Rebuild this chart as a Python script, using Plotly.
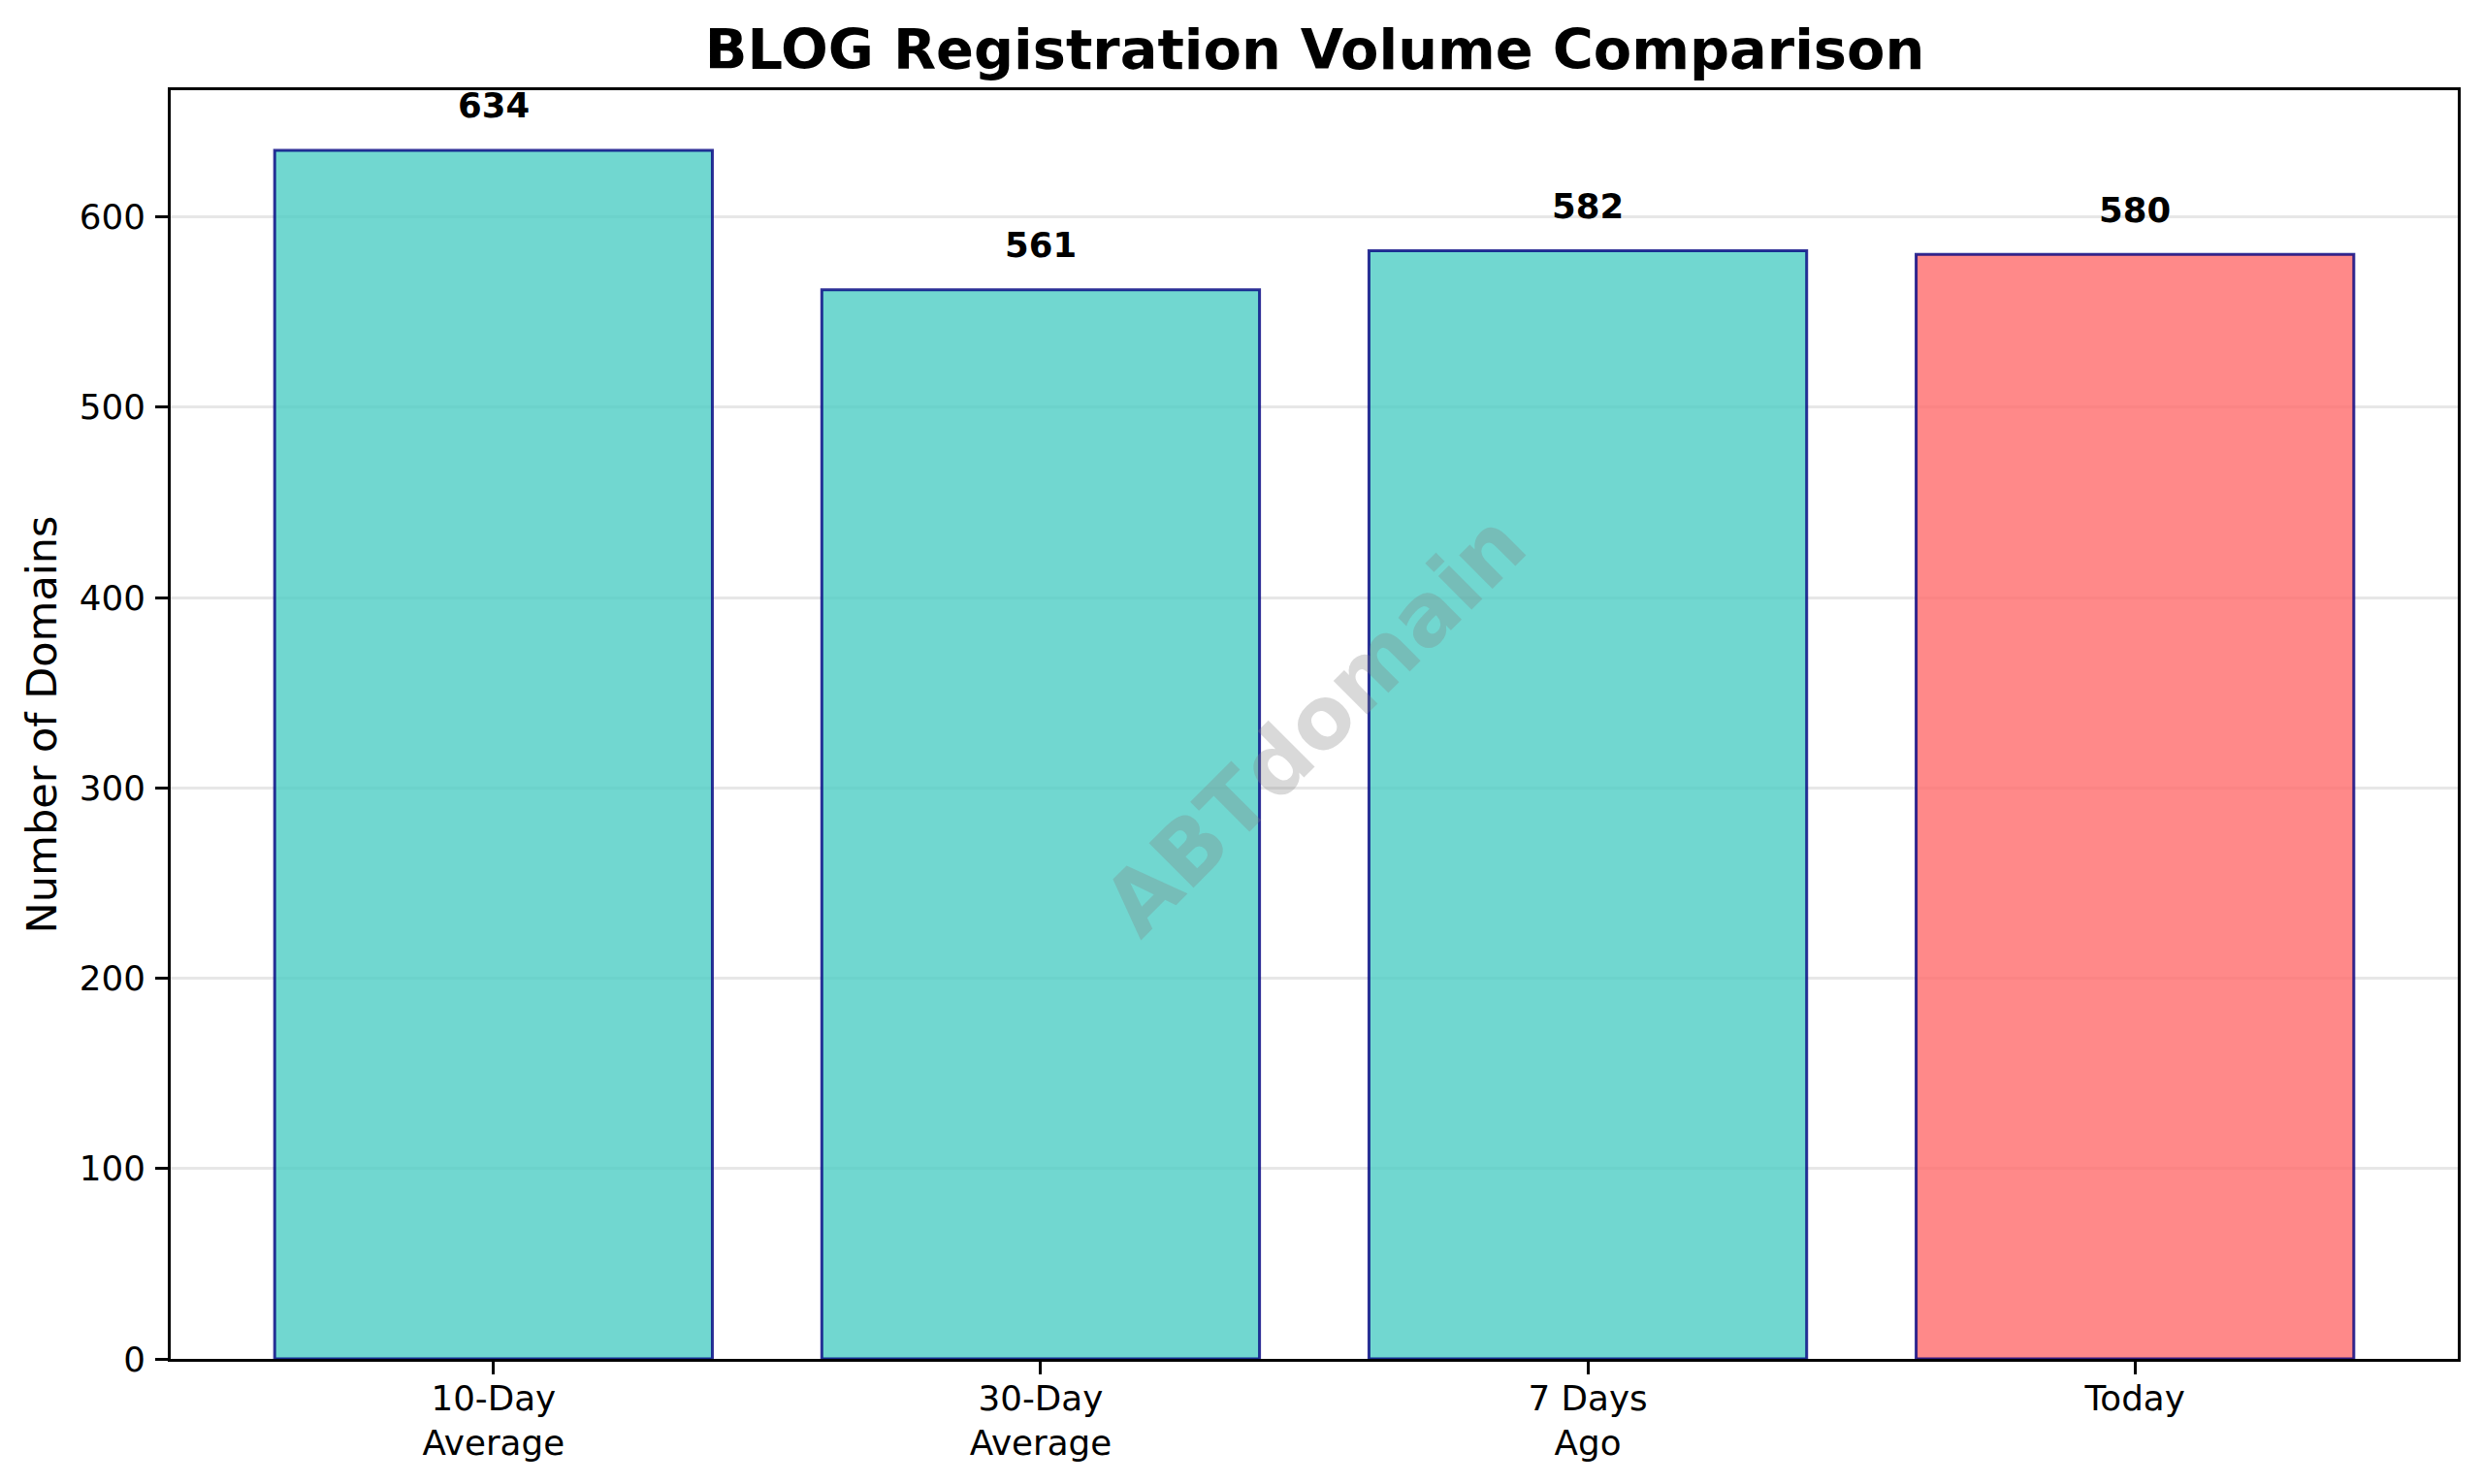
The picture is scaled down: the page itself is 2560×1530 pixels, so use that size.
import plotly.graph_objects as go

# === Data ===
categories = ["10-Day<br>Average", "30-Day<br>Average", "7 Days<br>Ago", "Today"]
values = [634.9, 561.6, 582.2, 580.2]
value_labels = ["634", "561", "582", "580"]
bar_colors = ["rgba(78,205,196,0.8)", "rgba(78,205,196,0.8)", "rgba(78,205,196,0.8)", "rgba(255,107,107,0.8)"]
y_ticks = [0, 100, 200, 300, 400, 500, 600]
label_offset = 23.5

FONT = "DejaVu Sans"

fig = go.Figure(go.Bar(
    x=categories,
    y=values,
    width=0.8,
    marker=dict(color=bar_colors, line=dict(color="rgba(0,0,128,0.8)", width=3)),
))

# value labels above the bars
for cat, val, lab in zip(categories, values, value_labels):
    fig.add_annotation(x=cat, y=val + label_offset, text="<b>%s</b>" % lab, showarrow=False,
                       yanchor="middle", font=dict(family=FONT, size=35.5, color="black"))

# watermark
fig.add_annotation(xref="paper", yref="paper", x=0.5, y=0.5, text="<b>ABTdomain</b>", textangle=-45,
                   showarrow=False, font=dict(family=FONT, size=89, color="rgba(128,128,128,0.3)"))

fig.update_layout(
    width=2560,
    height=1530,
    margin=dict(l=176, r=26, t=93, b=129),
    paper_bgcolor="white",
    plot_bgcolor="white",
    showlegend=False,
    font=dict(family=FONT, color="black"),
    title=dict(text="<b>BLOG Registration Volume Comparison</b>", x=0.5295, xanchor="center",
               y=1 - 51 / 1530, yanchor="middle", font=dict(family=FONT, size=57.4, color="black")),
)
fig.update_xaxes(
    range=[-0.59, 3.59], showline=True, mirror=True, linecolor="black", linewidth=3,
    ticks="outside", ticklen=13, tickwidth=3, tickcolor="black",
    tickfont=dict(family=FONT, size=35.7, color="black"), showgrid=False,
    ticklabelstandoff=-6,
)
fig.update_yaxes(
    range=[0, 666.5], tickvals=y_ticks, showline=True, mirror=True, linecolor="black", linewidth=3,
    ticks="outside", ticklen=13, tickwidth=3, tickcolor="black",
    tickfont=dict(family=FONT, size=35.7, color="black"), ticklabelstandoff=3,
    showgrid=True, gridcolor="rgba(176,176,176,0.3)", gridwidth=3, zeroline=False,
    title=dict(text="Number of Domains", font=dict(family=FONT, size=43, color="black"), standoff=10),
)

fig.write_html("out.html", config=dict(displayModeBar=False), post_script="document.body.style.margin='0';")
